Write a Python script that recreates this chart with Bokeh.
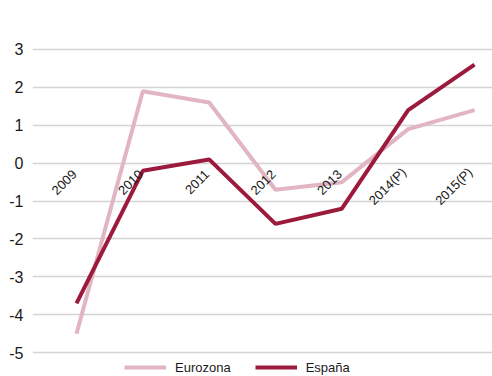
from bokeh.plotting import figure
from bokeh.models import ColumnDataSource, FixedTicker, Range1d, Legend, LegendItem, PrintfTickFormatter
from bokeh.core.properties import value
from bokeh.embed import file_html
from bokeh.resources import INLINE

years = ["2009", "2010", "2011", "2012", "2013", "2014(P)", "2015(P)"]
eurozona = [-4.5, 1.9, 1.6, -0.7, -0.5, 0.9, 1.4]
espana = [-3.7, -0.2, 0.1, -1.6, -1.2, 1.4, 2.6]
y_ticks = [-5, -4, -3, -2, -1, 0, 1, 2, 3]

xs = list(range(len(years)))
src = ColumnDataSource(dict(x=xs, year=years, euro=eurozona, esp=espana, zero=[0] * len(years)))

p = figure(width=492, height=376, output_backend="svg", toolbar_location=None,
           x_range=Range1d(-0.663, 6.271), y_range=Range1d(-5.628, 4.029),
           x_axis_location=None, min_border_left=32, min_border_right=0,
           min_border_top=10, min_border_bottom=0)
p.outline_line_color = None
p.background_fill_color = "white"
p.border_fill_color = "white"

p.xgrid.visible = False
p.ygrid.grid_line_color = "#d4d4d4"
p.ygrid.grid_line_width = 1.5

ax = p.yaxis[0]
ax.ticker = FixedTicker(ticks=y_ticks)
ax.formatter = PrintfTickFormatter(format="%d")
ax.axis_line_color = None
ax.major_tick_line_color = None
ax.major_tick_out = 0
ax.major_tick_in = 0
ax.minor_tick_line_color = None
ax.minor_tick_out = 0
ax.major_label_text_font = "Liberation Sans"
ax.major_label_text_font_size = "16px"
ax.major_label_text_color = "#1a1a1a"
ax.major_label_standoff = 9

r1 = p.line("x", "euro", source=src, line_color="#e2b5c2", line_width=4)
r2 = p.line("x", "esp", source=src, line_color="#9c1a3c", line_width=4)

p.text("x", "zero", text="year", source=src, angle=45, angle_units="deg",
       text_align="right", text_baseline="bottom", y_offset=12, x_offset=1,
       text_font=value("Liberation Sans"), text_font_size="13px", text_color="#1a1a1a")

legend = Legend(items=[LegendItem(label="Eurozona", renderers=[r1]),
                       LegendItem(label="España", renderers=[r2])],
                orientation="horizontal", location=(92, 1))
legend.border_line_color = None
legend.background_fill_alpha = 0
legend.padding = 0
legend.margin = 0
legend.spacing = 24
legend.glyph_width = 42
legend.glyph_height = 16
legend.label_height = 16
legend.label_standoff = 9
legend.label_text_font = "Liberation Sans"
legend.label_text_font_size = "13px"
legend.label_text_color = "#1a1a1a"
p.add_layout(legend)

open("out.html", "w").write(file_html(p, INLINE))
